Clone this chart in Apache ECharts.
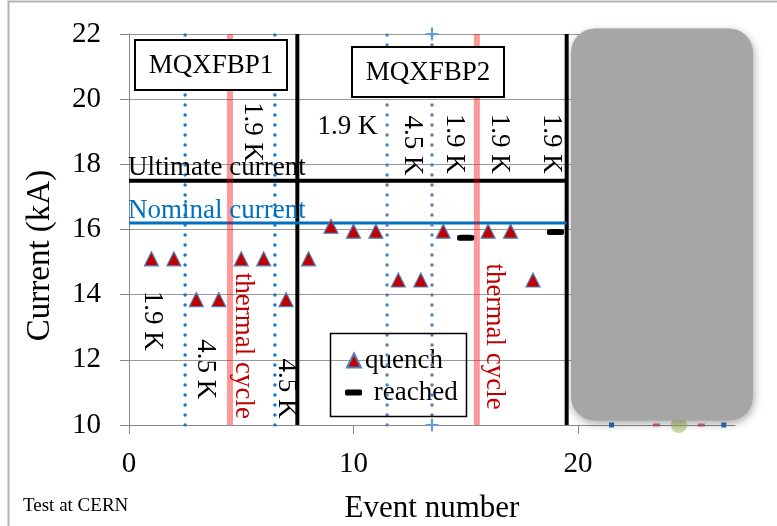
<!DOCTYPE html>
<html><head><meta charset="utf-8">
<script src="https://cdn.jsdelivr.net/npm/echarts@6/dist/echarts.min.js"></script>
<style>html,body{margin:0;padding:0;background:#fff}#c{width:777px;height:526px}</style>
</head><body><div id="c"></div>
<script>
// ---- data ----
const quenchEvents  = [1, 2, 3, 4, 5, 6, 7, 8, 9, 10, 11, 12, 13, 14, 16, 17, 18];
const quenchCurrent = [15.1, 15.1, 13.85, 13.85, 15.1, 15.1, 13.85, 15.1, 16.1, 15.95, 15.95, 14.45, 14.45, 15.95, 15.95, 15.95, 14.45];
const reachedEvents  = [15, 19];
const reachedCurrent = [15.75, 15.92];
const ultimateCurrent = 17.5;
const nominalCurrent = 16.2;
const refLineEnd = 19.5;
const tempChangeA = [2.5, 6.5];
const tempChangeB = [11.5, 13.5];
const thermalCycles = [4.5, 15.5];
const magnetBounds = [7.5, 19.5];
const hiddenBlueX = [21.5, 26.5];
const hiddenRedX = [23.5, 25.5];
const hiddenGreenX = [24.5];
const yRange = [10, 22];
const xRange = [0, 27];
const xTickValues = [0, 10, 20];
const magnetLabels = [['MQXFBP1', 3.64, 21.04], ['MQXFBP2', 13.33, 20.84]];
const tempLabels = [
  ['1.9 K', 5.47, 18.99, -90, '#000'],
  ['1.9 K', 9.73, 19.14, 0, '#000'],
  ['4.5 K', 12.61, 18.58, -90, '#000'],
  ['1.9 K', 14.49, 18.63, -90, '#000'],
  ['1.9 K', 16.50, 18.63, -90, '#000'],
  ['1.9 K', 18.82, 18.63, -90, '#000'],
  ['1.9 K', 1.05, 13.2, -90, '#000'],
  ['4.5 K', 3.37, 11.71, -90, '#000'],
  ['thermal cycle', 5.07, 12.43, -90, '#c00000'],
  ['4.5 K', 6.99, 11.12, -90, '#000'],
  ['thermal cycle', 16.27, 12.71, -90, '#c00000']
];
const refLabels = [['Ultimate current', 0, 17.89, '#000'], ['Nominal current', 0, 16.57, '#0070c0']];

const FONT = 'Liberation Serif';
const chart = echarts.init(document.getElementById('c'));

function vline(x, style, z, extra) {
  return Object.assign({
    type: 'line', data: [[x, yRange[0]], [x, yRange[1]]], symbol: 'none',
    lineStyle: style, z: z, silent: true, animation: false, legendHoverLink: false
  }, extra || {});
}
const series = [];
thermalCycles.forEach(x => series.push(vline(x, {color: 'rgba(255,0,0,0.4)', width: 6}, 4)));
magnetBounds.forEach(x => series.push(vline(x, {color: '#000', width: 4}, 3)));
series.push({type: 'line', data: [[xRange[0], ultimateCurrent], [refLineEnd, ultimateCurrent]], symbol: 'none', lineStyle: {color: '#000', width: 4}, z: 3, silent: true, animation: false});
series.push({type: 'line', data: [[xRange[0], nominalCurrent], [refLineEnd, nominalCurrent]], symbol: 'none', lineStyle: {color: '#0070c0', width: 3}, z: 3, silent: true, animation: false});
tempChangeA.forEach(x => series.push(vline(x, {color: '#1a78c8', width: 3.5, type: [0, 10], cap: 'round'}, 5)));
tempChangeB.forEach((x, i) => series.push(vline(x, {color: '#4f81bd', width: 3.5, type: [0, 10], cap: 'round'}, 5,
  i === 1 ? {symbol: 'path://M5,0L7,0L7,5L12,5L12,7L7,7L7,12L5,12L5,7L0,7L0,5L5,5Z', symbolSize: 13, showSymbol: true,
    itemStyle: {color: '#6a9bd6'}} : {})));
series.push({
  name: 'quench', type: 'scatter', symbol: 'triangle', symbolSize: [14, 14],
  data: quenchEvents.map((x, i) => [x, quenchCurrent[i]]),
  itemStyle: {color: '#c00000', borderColor: '#4f81bd', borderWidth: 1.2, opacity: 1}, z: 8, animation: false
});
series.push({
  name: 'reached', type: 'scatter', symbol: 'roundRect', symbolSize: [17, 6],
  data: reachedEvents.map((x, i) => [x, reachedCurrent[i]]),
  itemStyle: {color: '#000', opacity: 1}, z: 8, animation: false
});
series.push({type: 'scatter', symbol: 'rect', symbolSize: [5, 5], data: hiddenBlueX.map(x => [x, yRange[0]]), itemStyle: {color: '#2e6db4', opacity: 1}, z: 6, silent: true, animation: false});
series.push({type: 'scatter', symbol: 'rect', symbolSize: [7, 3], data: hiddenRedX.map(x => [x, yRange[0]]), itemStyle: {color: '#c0504d', opacity: 0.8}, z: 6, silent: true, animation: false});
series.push({type: 'scatter', symbol: 'circle', symbolSize: 16, data: hiddenGreenX.map(x => [x, yRange[0]]), itemStyle: {color: 'rgba(155,187,89,0.55)', opacity: 1}, z: 6, silent: true, animation: false});
const plainLabel = {show: true, position: 'inside', fontFamily: FONT, fontSize: 27, verticalAlign: 'middle', opacity: 1};
// text annotations anchored at data coordinates
series.push({
  type: 'scatter', symbolSize: 0, silent: true, animation: false, z: 9, clip: false, itemStyle: {opacity: 1},
  data: tempLabels.map(t => ({value: [t[1], t[2]], label: {show: true, formatter: t[0], rotate: t[3], color: t[4]}})),
  label: Object.assign({}, plainLabel, {align: 'center'})
});
series.push({
  type: 'scatter', symbolSize: 0, silent: true, animation: false, z: 9, clip: false, itemStyle: {opacity: 1},
  data: refLabels.map(t => ({value: [t[1], t[2]], label: {show: true, formatter: t[0], color: t[3]}})),
  label: Object.assign({}, plainLabel, {align: 'left', padding: [0, 0, 0, -1]})
});
// magnet name boxes (custom series, positioned by data coordinates)
series.push({
  type: 'custom', silent: true, animation: false, z: 10, clip: false,
  data: magnetLabels.map(t => [t[1], t[2]]),
  renderItem: function (params, api) {
    const p = api.coord([api.value(0), api.value(1)]);
    const cx = Math.round(p[0]), cy = Math.round(p[1]);
    return {
      type: 'group',
      children: [
        {type: 'rect', shape: {x: cx - 76, y: cy - 25, width: 152, height: 50},
         style: {fill: '#fff', stroke: '#000', lineWidth: 2}},
        {type: 'text', x: cx, y: cy + 1,
         style: {text: magnetLabels[params.dataIndex][0], align: 'center', verticalAlign: 'middle',
           font: '27px "Liberation Serif"', fill: '#000'}}
      ]
    };
  }
});

const option = {
  animation: false,
  backgroundColor: '#fff',
  grid: {left: 129, right: 42, top: 34, bottom: 101, outerBoundsMode: 'none'},
  xAxis: {
    type: 'value', min: xRange[0], max: xRange[1], interval: 10,
    name: 'Event number', nameLocation: 'middle', nameGap: 68,
    nameTextStyle: {fontFamily: FONT, fontSize: 31, color: '#000'},
    axisLine: {show: true, lineStyle: {color: '#888', width: 1}},
    axisTick: {show: true, length: 9, lineStyle: {color: '#888'}, customValues: xTickValues},
    axisLabel: {fontFamily: FONT, fontSize: 29, color: '#000', margin: 25, customValues: xTickValues},
    splitLine: {show: false}
  },
  yAxis: {
    type: 'value', min: yRange[0], max: yRange[1], interval: 2,
    name: 'Current (kA)', nameLocation: 'middle', nameGap: 72,
    nameTextStyle: {fontFamily: FONT, fontSize: 33, color: '#000', padding: [0, 52, 0, 0]},
    axisLine: {show: true, lineStyle: {color: '#888', width: 1}},
    axisTick: {show: true, length: 9, lineStyle: {color: '#888'}},
    axisLabel: {fontFamily: FONT, fontSize: 29, color: '#000', margin: 28},
    splitLine: {show: true, lineStyle: {color: '#999', width: 1}}
  },
  legend: [
    {data: [{name: 'quench', icon: 'triangle'}], left: 346, top: 347, padding: 0, itemWidth: 14, itemHeight: 14, itemGap: 0,
     textStyle: {fontFamily: FONT, fontSize: 27, color: '#000', padding: [0, 0, 0, -1]}, selectedMode: false},
    {data: [{name: 'reached', icon: 'roundRect'}], left: 345, top: 379, padding: 0, itemWidth: 17, itemHeight: 6, itemGap: 0,
     formatter: n => ' ' + n,
     textStyle: {fontFamily: FONT, fontSize: 27, color: '#000'}, selectedMode: false}
  ],
  graphic: [
    {type: 'rect', shape: {x: 8.5, y: 1.5, width: 900, height: 700}, style: {fill: 'none', stroke: '#b4b4b4', lineWidth: 2}, z: 0, silent: true},
    {type: 'rect', shape: {x: 330.5, y: 333.5, width: 136, height: 83}, style: {fill: 'none', stroke: '#000', lineWidth: 1.5}, z: 20, silent: true},
    {type: 'text', x: 23, y: 506, style: {text: 'Test at CERN', font: '19px "Liberation Serif"', fill: '#000', verticalAlign: 'middle'}, z: 20, silent: true},
    {type: 'rect', shape: {x: 571, y: 28.5, width: 182, height: 392, r: 24},
     style: {fill: '#a6a6a6', shadowBlur: 8, shadowColor: 'rgba(0,0,0,0.35)', shadowOffsetX: 1, shadowOffsetY: 3}, z: 100, silent: true}
  ],
  series: series
};
chart.setOption(option);
</script>
</body></html>
